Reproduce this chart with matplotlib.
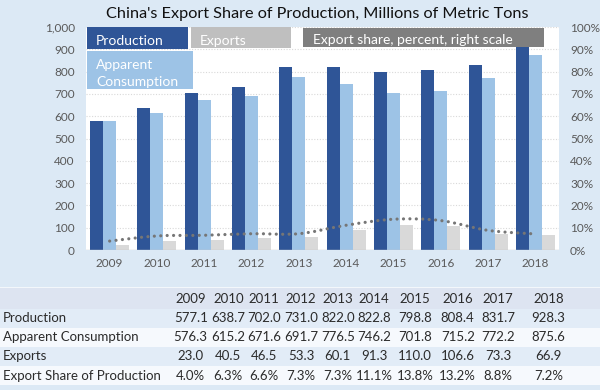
import matplotlib
matplotlib.use("Agg")
import matplotlib.pyplot as plt
from matplotlib.patches import Rectangle, PathPatch
from matplotlib.path import Path
import numpy as np

plt.rcParams['font.family'] = ['Lato', 'DejaVu Sans']

years = ['2009', '2010', '2011', '2012', '2013', '2014', '2015', '2016', '2017', '2018']
production = [577.1, 638.7, 702.0, 731.0, 822.0, 822.8, 798.8, 808.4, 831.7, 928.3]
consumption = [576.3, 615.2, 671.6, 691.7, 776.5, 746.2, 701.8, 715.2, 772.2, 875.6]
exports = [23.0, 40.5, 46.5, 53.3, 60.1, 91.3, 110.0, 106.6, 73.3, 66.9]
share = [4.0, 6.3, 6.6, 7.3, 7.3, 11.1, 13.8, 13.2, 8.8, 7.2]
share_labels = ['4.0%', '6.3%', '6.6%', '7.3%', '7.3%', '11.1%', '13.8%', '13.2%', '8.8%', '7.2%']
row_names = ['Production', 'Apparent Consumption', 'Exports', 'Export Share of Production']
left_ticks = [0, 100, 200, 300, 400, 500, 600, 700, 800, 900, 1000]
right_ticks = [0, 10, 20, 30, 40, 50, 60, 70, 80, 90, 100]

W, H = 600, 390
BG = '#dce9f5'
C_PROD = '#2f5597'
C_CONS = '#9dc3e6'
C_EXP = '#d9d9d9'
C_LINE = '#7f7f7f'

fig = plt.figure(figsize=(6, 3.9), dpi=100, facecolor=BG)

def fx(x):
    return x / W

def fy(y):
    return 1 - y / H

# table bands
bands = [
    (288, 309, '#dde4f1'),
    (309, 328, '#e2ecf7'),
    (328, 347, '#f6f9fd'),
    (347, 366, '#e2ecf7'),
    (366, 385, '#f6f9fd'),
]
fig.patches.append(Rectangle((0, fy(288.5)), 1, 1.5 / H, transform=fig.transFigure,
                             facecolor='#f3f7fb', edgecolor='none', zorder=0))
for y0, y1, c in bands:
    fig.patches.append(Rectangle((0, fy(y1)), 1, (y1 - y0) / H, transform=fig.transFigure,
                                 facecolor=c, edgecolor='none', zorder=0))

# main axes
ax = fig.add_axes([fx(86), fy(250), fx(559) - fx(86), (250 - 27) / H])
ax.set_facecolor('white')
x = np.arange(len(years))
bw = 0.275
ax.bar(x - bw, production, bw, color=C_PROD, zorder=2)
ax.bar(x, consumption, bw, color=C_CONS, zorder=2)
ax.bar(x + bw, exports, bw, color=C_EXP, zorder=2)
ax.set_xlim(-0.5, len(years) - 0.5)
ax.set_ylim(0, 1000)
ax.set_yticks(left_ticks)
ax.set_yticklabels([f'{v:,}' for v in left_ticks])
ax.set_xticks(x)
ax.set_xticklabels(years)
ax.tick_params(axis='both', length=0, labelsize=8.5, colors='#595959')
ax.tick_params(axis='x', pad=6)
ax.tick_params(axis='y', pad=8)
for s in ax.spines.values():
    s.set_visible(False)
for t in left_ticks[1:]:
    ax.axhline(t, color='#d9d9d9', lw=0.8, ls=(0, (1, 1.5)), zorder=1)
ax.axhline(0, color='#c8c8c8', lw=1.0, zorder=3)

ax2 = ax.twinx()
ax2.set_ylim(0, 100)
ax2.set_yticks(right_ticks)
ax2.set_yticklabels([f'{v}%' for v in right_ticks])
ax2.tick_params(axis='y', length=0, labelsize=8.5, colors='#595959', pad=8)
for s in ax2.spines.values():
    s.set_visible(False)

# smoothed line (Catmull-Rom -> Bezier) through the share points
px = np.array(x, dtype=float)
py = np.array(share, dtype=float)
verts = [(px[0], py[0])]
codes = [Path.MOVETO]
n = len(px)
for i in range(n - 1):
    p0 = np.array([px[max(i - 1, 0)], py[max(i - 1, 0)]])
    p1 = np.array([px[i], py[i]])
    p2 = np.array([px[i + 1], py[i + 1]])
    p3 = np.array([px[min(i + 2, n - 1)], py[min(i + 2, n - 1)]])
    c1 = p1 + (p2 - p0) / 6.0
    c2 = p2 - (p3 - p1) / 6.0
    verts += [tuple(c1), tuple(c2), tuple(p2)]
    codes += [Path.CURVE4, Path.CURVE4, Path.CURVE4]
patch = PathPatch(Path(verts, codes), facecolor='none', edgecolor='#767676', lw=2.3,
                  ls=(0, (0.01, 2.0)), zorder=4)
patch.set_capstyle('round')
ax2.add_patch(patch)

# legend boxes (figure pixel coords)
def box(x0, y0, x1, y1, color, lines, tx, ty):
    fig.patches.append(Rectangle((fx(x0), fy(y1)), fx(x1 - x0), (y1 - y0) / H,
                                 transform=fig.transFigure, facecolor=color,
                                 edgecolor='none', zorder=5))
    for txt, yy in zip(lines, ty):
        fig.text(fx(tx), fy(yy), txt, color='white', fontsize=10, va='center',
                 ha='left', zorder=6)

box(87, 27.5, 188, 49, C_PROD, ['Production'], 96, [41])
box(87, 51, 193, 89, C_CONS, ['Apparent', 'Consumption'], 96, [65, 81.5])
box(191, 27.5, 291, 48, '#bfbfbf', ['Exports'], 200, [41])
box(303, 27.5, 544, 46.7, C_LINE, ['Export share, percent, right scale'], 313, [40])

fig.text(fx(317.5), fy(14), "China's Export Share of Production, Millions of Metric Tons",
         fontsize=11.7, ha='center', va='center', color='#111111')

# table
col_x = [190.7, 228.3, 264.3, 301, 337.7, 374, 415, 457.7, 498, 548.3]
row_y = [318.3, 337.3, 356.3, 375.8]
fs = 9.5
tc = '#2b2b2b'
for cx, yr in zip(col_x, years):
    fig.text(fx(cx), fy(299), yr, fontsize=fs, ha='center', va='center', color=tc)
rows = [[f'{v:.1f}' for v in production],
        [f'{v:.1f}' for v in consumption],
        [f'{v:.1f}' for v in exports],
        share_labels]
for name, vals, ry in zip(row_names, rows, row_y):
    fig.text(fx(3), fy(ry), name, fontsize=fs, ha='left', va='center', color=tc)
    for cx, v in zip(col_x, vals):
        fig.text(fx(cx), fy(ry), v, fontsize=fs, ha='center', va='center', color=tc)

fig.savefig('out.png', dpi=100, facecolor=BG)
